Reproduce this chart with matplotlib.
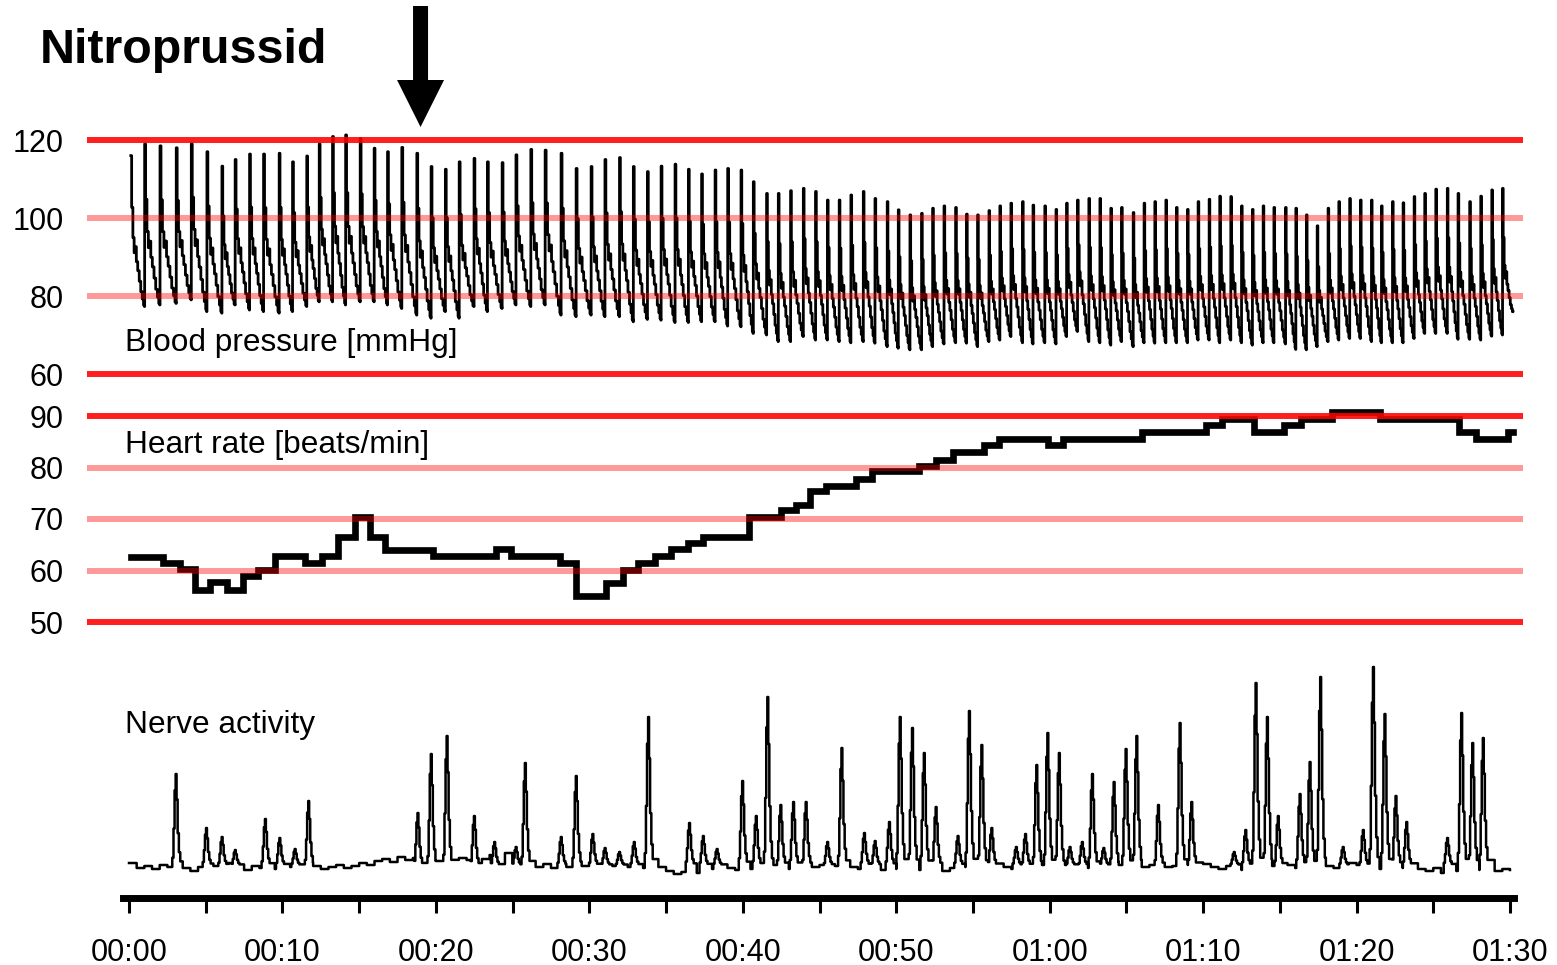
import matplotlib
matplotlib.use("Agg")
import matplotlib.pyplot as plt
import numpy as np

plt.rcParams["font.family"] = ["Liberation Sans", "DejaVu Sans"]

W, H, DPI = 1557, 965, 100

# ── values ──────────────────────────────────────────────────────────────────
TITLE = "Nitroprussid"
NITRO_T = 19.0  # time of injection [s]

# blood pressure: one entry per beat (upstroke time, systolic peak, trough before it)
BP_T = [
    0.1, 1.0, 2.0, 3.06, 4.04, 5.06, 6.04, 6.9, 7.84, 8.75,
    9.77, 10.64, 11.57, 12.38, 13.25, 14.1, 15.05, 15.96, 16.83, 17.76,
    18.74, 19.67, 20.6, 21.5, 22.47, 23.34, 24.3, 25.2, 26.17, 27.1,
    28.14, 29.12, 30.1, 31.0, 31.95, 32.85, 33.77, 34.66, 35.57, 36.44,
    37.3, 38.18, 39.0, 39.87, 40.67, 41.54, 42.3, 43.1, 43.93, 44.73,
    45.5, 46.27, 47.03, 47.84, 48.6, 49.4, 50.12, 50.88, 51.64, 52.36,
    53.1, 53.86, 54.57, 55.29, 56.03, 56.74, 57.46, 58.22, 58.9, 59.67,
    60.4, 61.09, 61.8, 62.54, 63.26, 63.97, 64.67, 65.43, 66.14, 66.84,
    67.56, 68.25, 68.97, 69.66, 70.38, 71.07, 71.79, 72.49, 73.2, 73.9,
    74.6, 75.36, 76.03, 76.72, 77.42, 78.13, 78.83, 79.54, 80.24, 80.96,
    81.61, 82.33, 83.02, 83.74, 84.43, 85.15, 85.9, 86.6, 87.36, 88.08,
    88.8, 89.5,
]
BP_SYS = [
    116.0, 119.0, 118.5, 118.0, 119.0, 117.0, 113.3, 115.0, 116.4, 116.4,
    116.6, 114.4, 115.9, 119.0, 120.9, 121.3, 120.4, 117.9, 117.0, 118.1,
    116.6, 113.2, 112.5, 114.4, 115.3, 114.4, 114.2, 116.2, 117.6, 117.4,
    116.6, 112.7, 113.2, 115.0, 115.5, 113.2, 111.9, 113.3, 113.8, 112.5,
    111.3, 112.3, 112.7, 112.3, 109.3, 106.3, 106.3, 107.0, 107.6, 106.8,
    104.6, 104.6, 105.9, 106.8, 105.0, 104.2, 102.1, 100.8, 101.2, 102.5,
    103.1, 102.7, 101.0, 100.8, 101.9, 103.1, 103.8, 104.2, 103.3, 103.1,
    102.2, 103.8, 104.6, 105.0, 105.0, 102.5, 102.7, 101.4, 103.8, 104.2,
    104.6, 102.7, 102.2, 104.2, 104.8, 105.6, 105.5, 103.1, 102.2, 103.1,
    102.7, 102.7, 102.5, 100.8, 98.0, 102.5, 104.2, 105.0, 104.6, 104.6,
    103.1, 104.2, 103.9, 105.5, 106.3, 107.4, 107.6, 106.3, 104.2, 105.6,
    107.2, 107.6,
]
BP_DIA = [
    77.0,
    77.3, 77.7, 78.1, 79.0, 76.0, 75.6, 77.7, 76.4, 76.0, 75.6,
    76.0, 77.3, 78.5, 78.5, 77.7, 78.5, 78.5, 77.7, 76.8, 75.1,
    74.3, 76.0, 74.3, 77.3, 76.0, 76.8, 77.7, 77.3, 77.7, 75.1,
    74.7,
    75.1, 74.7, 74.7, 73.4, 74.0, 73.8, 73.2, 73.2, 73.4, 73.4,
    72.3, 72.1, 70.4, 70.0, 68.3, 68.3, 69.6, 68.7, 68.7, 68.3,
    68.0, 68.3, 67.9, 67.0, 66.6, 66.2, 66.2, 67.0, 67.7, 68.0,
    67.9, 67.0, 68.3, 68.7, 69.6, 68.0, 67.7, 68.0, 67.7,
    69.6, 70.9, 68.3, 68.0, 67.4, 68.3, 67.0, 68.0, 67.9, 68.0,
    68.0, 68.0, 68.7, 68.7, 68.0, 68.7, 68.0, 67.4, 68.0, 68.0,
    67.7, 66.3, 66.2, 67.0, 68.3, 68.7, 69.1, 69.1, 68.3, 68.0,
    68.0, 68.0, 69.1, 70.4, 70.4, 70.4, 68.9, 68.9, 68.7, 69.7,
    70.0,
]
BP_END_T, BP_END_V = 90.2, 76.0

# shape of one pressure pulse (fraction of the beat, fraction of pulse pressure)
PULSE_PHASE = [0.00, 0.02, 0.08, 0.17, 0.26, 0.33, 0.42, 0.52, 0.63, 0.74, 0.85, 0.94]
PULSE_SHAPE = [0.00, 1.00, 0.66, 0.46, 0.36, 0.40, 0.30, 0.24, 0.17, 0.10, 0.05, 0.01]

# heart rate: step start times and beat-to-beat rate
HR_T = [
    0.1, 2.2, 3.3, 4.3, 5.3, 6.4, 7.4, 8.4, 9.5, 11.5,
    12.6, 13.6, 14.7, 15.7, 16.7, 19.8, 23.9, 24.9, 28.1, 29.1,
    31.1, 32.2, 33.2, 34.3, 35.3, 36.4, 37.4, 40.4, 42.5, 43.5,
    44.4, 45.4, 47.4, 48.4, 51.5, 52.6, 53.7, 55.7, 56.7, 59.9,
    60.9, 66.0, 70.2, 71.2, 73.3, 75.3, 76.4, 78.4, 81.5, 86.7,
    87.8, 89.9,
]
HR_V = [
    62.7, 61.5, 60.2, 56.2, 57.8, 56.2, 58.9, 60.1, 62.9, 61.4,
    62.9, 66.6, 70.4, 66.6, 64.0, 62.9, 64.2, 62.9, 61.4, 55.0,
    57.6, 60.1, 61.4, 62.9, 64.2, 65.4, 66.6, 70.4, 71.8, 72.8,
    75.4, 76.5, 77.8, 79.4, 80.2, 81.5, 83.0, 84.3, 85.6, 84.3,
    85.6, 86.9, 88.2, 89.5, 86.9, 88.2, 89.5, 90.8, 89.5, 86.9,
    85.6, 86.9,
]
HR_END_T = 90.2

# nerve activity (arbitrary units): baseline every 0.5 s, plus bursts
NERVE_DT = 0.5
NERVE_BASE = [
    2, -3, -1, -4, 0, -2, -5, -3, -6, -2, -4, -1, -3, 2, -2, -5, -1, -3, -2, -4,
    0, -2, 1, -3, -1, -4, -2, 0, -3, -1, 2, 0, 4, 6, 3, 8, 5, 7, 10, 6,
    4, 6, 3, 7, 5, 9, 6, 10, 8, 12, 9, 7, 4, -2, 1, -3, 0, -2, -4, -1,
    -2, 0, -3, -1, -4, -2, 0, -3, -5, -2, -6, -9, -7, -11, -8, -6, -4, -7, -3, -5,
    -2, -4, -1, -3, 0, -2, -4, -1, -3, -2, 0, 2, -1, -3, -2, -4, -1, -3, -5, -2,
    -4, -6, -3, -5, -7, -4, -6, -3, -5, -2, -4, -1, -3, 0, -2, -4, -1, -3, -2, 0,
    -1, -3, 0, -2, 1, -3, -1, -4, -2, 0, -3, -1, -2, 0, -4, -2, -1, 2, 0, 3,
    1, -2, -4, -1, -3, -5, -2, 0, -3, -1, -2, 0, -3, -1, -2, -4, -1, -3, 4, 2,
    0, -3, -1, -4, -2, -5, -3, -1, -4, -6, -3, -8, -13, -6, -4, -2, -5, -3, -6, -4,
    -5,
]
NERVE_BURST_T = [
    3.04, 5.02, 6.04, 6.9, 8.86, 9.8, 10.8, 11.68, 18.8, 19.67,
    20.7, 22.48, 23.8, 25.2, 25.8, 28.14, 29.12, 30.2, 31.0, 31.94,
    32.9, 33.83, 36.5, 37.4, 38.3, 39.96, 40.85, 41.6, 42.45, 43.28,
    44.1, 45.5, 46.43, 47.9, 48.6, 49.53, 50.23, 51.03, 51.8, 52.57,
    54.0, 54.74, 55.55, 56.2, 57.8, 58.4, 59.13, 59.85, 60.6, 61.3,
    62.1, 62.76, 63.5, 64.17, 64.95, 65.65, 67.06, 68.47, 69.23, 72.0,
    72.75, 73.42, 74.16, 74.87, 76.29, 76.94, 77.63, 79.1, 80.41, 81.07,
    81.82, 82.54, 83.24, 85.9, 86.82, 87.54, 88.23,
]
NERVE_BURST_H = [
    91, 37, 28, 15, 46, 27, 16, 64, 52, 111,
    129, 49, 23, 18, 102, 28, 89, 31, 17, 13,
    23, 148, 42, 29, 16, 84, 49, 168, 60, 63,
    63, 23, 117, 32, 24, 43, 148, 137, 112, 58,
    29, 154, 120, 37, 18, 31, 100, 132, 112, 18,
    23, 91, 17, 83, 116, 129, 60, 142, 63, 13,
    35, 182, 148, 49, 71, 103, 188, 18, 35, 198,
    151, 69, 43, 27, 152, 122, 127,
]
BURST_OFFSET = [-0.22, -0.14, -0.07, 0.0, 0.06, 0.13, 0.21, 0.30]
BURST_SHAPE = [0.08, 0.40, 0.82, 1.00, 0.72, 0.35, 0.14, 0.04]

BP_TICKS = [60, 80, 100, 120]
BP_HEAVY = [60, 120]
HR_TICKS = [50, 60, 70, 80, 90]
HR_HEAVY = [50, 90]
TIME_TICKS = list(range(0, 91, 5))
TIME_LABELS = [f"{t // 60:02d}:{t % 60:02d}" if t % 10 == 0 else "" for t in TIME_TICKS]

# ── layout (pixel positions on the 1557x965 canvas) ─────────────────────────
PX_T0, PX_T90 = 129, 1510          # x pixel of 00:00 and 01:30
GRID_L, GRID_R = 87, 1523          # extent of the red grid lines
S_PER_PX = 90 / (PX_T90 - PX_T0)
XLIM = ((GRID_L - PX_T0) * S_PER_PX, 90 + (GRID_R - PX_T90) * S_PER_PX)

fig = plt.figure(figsize=(W / DPI, H / DPI), dpi=DPI)


def px_axes(top, bottom, left=GRID_L, right=GRID_R):
    return fig.add_axes([left / W, 1 - bottom / H, (right - left) / W, (bottom - top) / H])


def clean(ax):
    for s in ax.spines.values():
        s.set_visible(False)
    ax.set_xlim(*XLIM)
    ax.set_xticks([])
    ax.patch.set_alpha(0)


def red_grid(ax, ticks, heavy):
    for v in ticks:
        ax.axhline(v, color="#ff0000", lw=4.3, alpha=0.88 if v in heavy else 0.4,
                   zorder=3, solid_capstyle="butt")
    ax.set_yticks(ticks)
    ax.tick_params(axis="y", length=0, pad=17, labelsize=22)


# blood pressure: 120 at y=140 px, 60 at y=374 px
ax_bp = px_axes(100, 380)
clean(ax_bp)
bp_scale = (374 - 140) / 60
ax_bp.set_ylim(60 - (380 - 374) / bp_scale, 120 + (140 - 100) / bp_scale)
red_grid(ax_bp, BP_TICKS, BP_HEAVY)

bp_t, bp_v = [], []
n = len(BP_T)
for i in range(n):
    t0 = BP_T[i]
    t1 = BP_T[i + 1] if i + 1 < n else BP_END_T
    lo0 = BP_DIA[i]
    lo1 = BP_DIA[i + 1] if i + 1 < n else BP_END_V
    for k, (p, s) in enumerate(zip(PULSE_PHASE, PULSE_SHAPE)):
        if i == 0 and k == 0:
            continue  # recording starts on the first peak
        base = lo0 + (lo1 - lo0) * p
        bp_t.append(t0 + p * (t1 - t0))
        bp_v.append(base + s * (BP_SYS[i] - base))
bp_t.append(BP_END_T)
bp_v.append(BP_END_V)
ax_bp.plot(bp_t, bp_v, drawstyle="steps-post", color="black", lw=2.0, zorder=2)

# heart rate: 90 at y=416 px, 50 at y=622 px
ax_hr = px_axes(395, 635)
clean(ax_hr)
hr_scale = (622 - 416) / 40
ax_hr.set_ylim(50 - (635 - 622) / hr_scale, 90 + (416 - 395) / hr_scale)
red_grid(ax_hr, HR_TICKS, HR_HEAVY)
ax_hr.plot(HR_T + [HR_END_T], HR_V + [HR_V[-1]], drawstyle="steps-post",
           color="black", lw=4.8, zorder=2, solid_joinstyle="miter")

# nerve activity: baseline near y=865 px, time axis at y=898 px
ax_n = px_axes(650, 898)
clean(ax_n)
ax_n.set_ylim(865 - 898, 865 - 650)
ax_n.set_yticks([])

base_t = np.arange(len(NERVE_BASE)) * NERVE_DT
windows = [(t + BURST_OFFSET[0], t + BURST_OFFSET[-1]) for t in NERVE_BURST_T]
pts = [(t, v) for t, v in zip(base_t, NERVE_BASE)
       if not any(a <= t <= b for a, b in windows)]
for t, h in zip(NERVE_BURST_T, NERVE_BURST_H):
    pts += [(t + o, s * h) for o, s in zip(BURST_OFFSET, BURST_SHAPE)]
pts.sort()
nt, nv = zip(*pts)
ax_n.plot(nt, nv, drawstyle="steps-post", color="black", lw=1.8)

# time axis
sp = ax_n.spines["bottom"]
sp.set_visible(True)
sp.set_linewidth(5)
sp.set_bounds((123 - PX_T0) * S_PER_PX, (1514 - PX_T0) * S_PER_PX)
ax_n.set_xticks(TIME_TICKS)
ax_n.set_xticklabels(TIME_LABELS)
ax_n.tick_params(axis="x", direction="out", length=10.5, width=2.2, pad=18, labelsize=22)

# texts
fig.text(40 / W, 1 - 63 / H, TITLE, fontsize=34.8, fontweight="bold", va="baseline")
fig.text(125 / W, 1 - 351 / H, "Blood pressure [mmHg]", fontsize=22.8, va="baseline")
fig.text(125 / W, 1 - 453 / H, "Heart rate [beats/min]", fontsize=22.8, va="baseline")
fig.text(125 / W, 1 - 733 / H, "Nerve activity", fontsize=22.8, va="baseline")

# injection arrow (pixel overlay)
ov = fig.add_axes([0, 0, 1, 1])
ov.set_xlim(0, W)
ov.set_ylim(H, 0)
ov.axis("off")
ax_px = PX_T0 + NITRO_T / S_PER_PX
arrow = [(ax_px - 7.5, 6), (ax_px + 7.5, 6), (ax_px + 7.5, 80), (ax_px + 23.5, 80),
         (ax_px, 127), (ax_px - 23.5, 80), (ax_px - 7.5, 80)]
ov.add_patch(plt.Polygon(arrow, closed=True, color="black", lw=0))

fig.savefig("out.png", dpi=DPI)
